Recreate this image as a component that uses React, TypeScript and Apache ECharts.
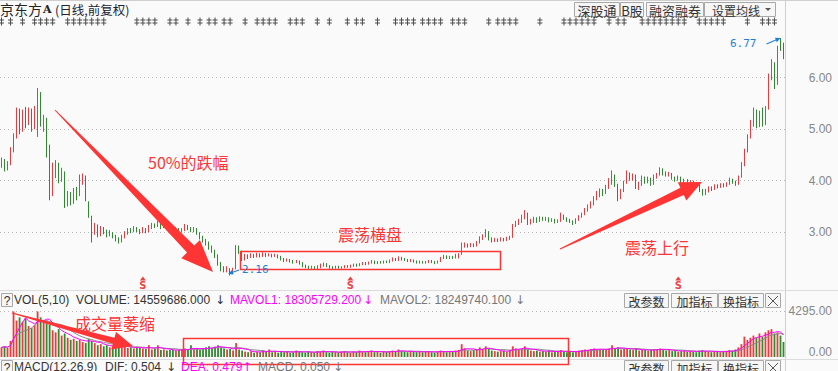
import React, { useEffect, useRef } from "react";
import * as echarts from "echarts";

// [open, close, low, high] per trading day
const kline: number[][] = [
  [4.30,4.38,4.25,4.45],[4.38,4.25,4.18,4.42],[4.25,4.32,4.20,4.38],[4.32,4.60,4.30,4.65],[4.60,4.85,4.55,4.92],[4.85,5.35,4.82,5.42],[5.35,4.98,4.90,5.40],[4.98,5.30,4.95,5.38],[5.30,5.15,5.02,5.43],[5.15,5.38,5.08,5.42],
  [5.38,5.05,4.95,5.40],[5.05,5.40,5.00,5.45],[5.40,5.70,4.85,5.80],[5.70,5.10,5.05,5.72],[5.10,5.22,4.95,5.28],[5.20,4.50,4.45,5.22],[4.50,3.72,3.62,4.70],[3.75,4.20,3.70,4.35],[4.20,4.30,4.05,4.40],[4.30,4.02,3.95,4.35],
  [4.02,4.18,3.98,4.25],[4.15,3.55,3.47,4.18],[3.55,3.70,3.50,3.80],[3.70,3.58,3.52,3.78],[3.58,3.82,3.55,3.86],[3.82,3.70,3.62,3.88],[3.72,4.00,3.70,4.12],[4.00,4.08,3.92,4.14],[4.08,3.66,3.60,4.10],[3.56,3.32,3.28,3.60],
  [3.30,3.00,2.80,3.32],[3.00,3.12,2.95,3.18],[3.10,2.95,2.90,3.15],[2.96,3.08,2.92,3.12],[3.08,3.02,2.96,3.10],[3.02,2.95,2.90,3.05],[2.95,2.99,2.92,3.04],[2.98,2.92,2.88,3.00],[2.92,2.86,2.82,2.95],[2.86,2.82,2.78,2.90],
  [2.83,2.92,2.80,2.95],[2.92,2.98,2.88,3.02],[2.98,3.05,2.95,3.08],[3.05,3.02,2.98,3.08],[3.02,3.08,3.00,3.12],[3.08,3.04,3.00,3.10],[3.04,3.00,2.96,3.06],[3.00,3.06,2.98,3.10],[3.06,3.02,2.98,3.08],[3.02,3.10,3.00,3.14],
  [3.10,3.14,3.06,3.18],[3.14,3.12,3.08,3.17],[3.12,3.18,3.10,3.22],[3.18,3.10,3.06,3.20],[3.10,3.14,3.08,3.18],[3.14,3.08,3.04,3.16],[3.08,3.02,2.98,3.10],[3.02,3.00,2.95,3.06],[3.00,3.06,2.98,3.10],[3.06,3.02,2.98,3.08],
  [3.02,3.05,2.99,3.08],[3.05,3.12,3.02,3.16],[3.12,3.08,3.04,3.14],[3.08,3.04,3.00,3.10],[3.04,3.06,3.00,3.10],[3.06,2.98,2.95,3.08],[2.98,2.90,2.86,3.00],[2.90,2.84,2.80,2.93],[2.84,2.80,2.74,2.87],[2.80,2.70,2.66,2.82],
  [2.70,2.64,2.60,2.74],[2.64,2.55,2.50,2.66],[2.55,2.40,2.35,2.57],[2.40,2.30,2.24,2.42],[2.30,2.26,2.22,2.34],[2.26,2.30,2.22,2.34],[2.28,2.22,2.16,2.30],[2.22,2.28,2.19,2.31],[2.30,2.70,2.28,2.75],[2.70,2.62,2.58,2.74],
  [2.62,2.48,2.44,2.64],[2.48,2.55,2.45,2.58],[2.55,2.52,2.48,2.57],[2.52,2.56,2.50,2.59],[2.56,2.53,2.50,2.58],[2.53,2.57,2.51,2.60],[2.57,2.54,2.51,2.59],[2.54,2.58,2.52,2.61],[2.58,2.55,2.52,2.60],[2.55,2.57,2.53,2.59],
  [2.57,2.54,2.51,2.58],[2.54,2.56,2.52,2.58],[2.56,2.52,2.49,2.57],[2.52,2.48,2.45,2.54],[2.48,2.45,2.42,2.50],[2.45,2.47,2.43,2.49],[2.47,2.44,2.41,2.48],[2.44,2.42,2.39,2.46],[2.42,2.44,2.40,2.46],[2.44,2.40,2.37,2.45],
  [2.40,2.35,2.32,2.42],[2.35,2.33,2.30,2.37],[2.33,2.31,2.28,2.35],[2.31,2.33,2.29,2.35],[2.33,2.30,2.28,2.34],[2.30,2.32,2.28,2.36],[2.32,2.36,2.30,2.39],[2.36,2.38,2.33,2.41],[2.38,2.34,2.32,2.40],[2.34,2.32,2.29,2.36],
  [2.32,2.31,2.28,2.34],[2.31,2.33,2.29,2.35],[2.33,2.31,2.29,2.35],[2.31,2.32,2.29,2.34],[2.32,2.34,2.30,2.36],[2.34,2.33,2.31,2.36],[2.33,2.35,2.31,2.37],[2.35,2.37,2.33,2.39],[2.37,2.35,2.33,2.39],[2.35,2.38,2.34,2.40],
  [2.38,2.40,2.36,2.42],[2.40,2.38,2.36,2.42],[2.38,2.41,2.37,2.43],[2.41,2.43,2.39,2.46],[2.43,2.40,2.38,2.45],[2.40,2.42,2.38,2.44],[2.42,2.41,2.39,2.44],[2.41,2.43,2.39,2.45],[2.43,2.42,2.40,2.45],[2.42,2.45,2.40,2.47],
  [2.45,2.48,2.43,2.51],[2.48,2.46,2.44,2.50],[2.46,2.50,2.44,2.53],[2.50,2.48,2.45,2.52],[2.48,2.46,2.44,2.50],[2.46,2.44,2.42,2.48],[2.44,2.46,2.42,2.48],[2.46,2.43,2.41,2.47],[2.43,2.41,2.39,2.45],[2.41,2.43,2.39,2.45],
  [2.43,2.41,2.39,2.44],[2.41,2.42,2.39,2.44],[2.42,2.44,2.40,2.46],[2.44,2.42,2.40,2.46],[2.42,2.40,2.38,2.44],[2.40,2.43,2.39,2.45],[2.43,2.50,2.42,2.52],[2.50,2.53,2.48,2.56],[2.53,2.50,2.48,2.55],[2.50,2.52,2.48,2.54],
  [2.52,2.51,2.48,2.54],[2.51,2.55,2.49,2.58],[2.51,2.56,2.49,2.59],[2.58,2.74,2.56,2.80],[2.74,2.76,2.70,2.80],[2.76,2.73,2.70,2.78],[2.73,2.76,2.71,2.79],[2.76,2.74,2.71,2.78],[2.74,2.80,2.72,2.83],[2.80,2.88,2.78,2.92],
  [2.88,2.92,2.85,2.96],[2.92,3.00,2.90,3.06],[3.00,2.88,2.84,3.02],[2.88,2.84,2.80,2.90],[2.84,2.86,2.81,2.89],[2.86,2.84,2.81,2.88],[2.84,2.87,2.82,2.90],[2.87,2.85,2.82,2.89],[2.85,2.88,2.83,2.91],[2.88,2.90,2.85,2.93],
  [2.90,3.14,2.89,3.16],[3.14,3.18,3.10,3.22],[3.18,3.22,3.14,3.26],[3.22,3.30,3.18,3.34],[3.30,3.36,3.25,3.43],[3.36,3.18,3.14,3.38],[3.18,3.22,3.15,3.26],[3.22,3.26,3.18,3.30],[3.26,3.22,3.18,3.29],[3.22,3.28,3.20,3.31],
  [3.28,3.25,3.22,3.30],[3.25,3.27,3.22,3.30],[3.27,3.22,3.19,3.29],[3.22,3.24,3.20,3.27],[3.24,3.20,3.17,3.26],[3.20,3.22,3.18,3.25],[3.22,3.30,3.20,3.38],[3.30,3.27,3.24,3.34],[3.27,3.24,3.20,3.29],[3.24,3.21,3.18,3.26],
  [3.21,3.18,3.14,3.23],[3.18,3.24,3.16,3.27],[3.24,3.30,3.22,3.33],[3.30,3.35,3.28,3.38],[3.35,3.44,3.33,3.47],[3.44,3.50,3.40,3.54],[3.50,3.56,3.46,3.60],[3.56,3.66,3.52,3.70],[3.66,3.72,3.62,3.80],[3.72,3.80,3.68,3.85],
  [3.80,3.76,3.70,3.84],[3.76,3.88,3.74,3.92],[3.88,3.96,3.84,4.05],[3.96,4.08,3.92,4.20],[4.08,3.92,3.88,4.12],[3.92,3.64,3.60,3.94],[3.66,3.80,3.64,3.84],[3.80,3.96,3.78,4.00],[3.96,4.12,3.94,4.20],[4.12,4.05,4.00,4.16],
  [4.05,4.10,4.00,4.14],[4.10,3.88,3.84,4.12],[3.88,3.92,3.82,3.98],[3.92,4.06,3.90,4.10],[4.06,3.98,3.94,4.08],[3.98,4.04,3.95,4.08],[4.04,3.94,3.90,4.06],[3.94,4.08,3.92,4.12],[4.08,4.12,4.04,4.15],[4.12,4.22,4.10,4.26],
  [4.22,4.15,4.10,4.24],[4.15,4.12,4.08,4.18],[4.12,4.14,4.08,4.17],[4.14,4.06,4.02,4.15],[4.06,4.04,3.98,4.08],[4.04,4.06,4.00,4.10],[4.06,3.98,3.95,4.08],[3.98,4.00,3.94,4.04],[4.00,3.96,3.93,4.03],[3.96,3.98,3.92,4.01],
  [3.98,3.94,3.90,4.00],[3.94,3.92,3.88,3.97],[3.92,3.82,3.78,3.94],[3.82,3.74,3.71,3.84],[3.74,3.80,3.72,3.84],[3.80,3.86,3.77,3.89],[3.86,3.84,3.80,3.89],[3.84,3.90,3.82,3.93],[3.90,3.88,3.85,3.93],[3.88,3.92,3.86,3.95],
  [3.92,3.90,3.87,3.95],[3.90,3.94,3.88,3.97],[3.94,4.02,3.92,4.06],[4.02,3.98,3.94,4.04],[3.98,3.94,3.90,4.00],[3.94,4.08,3.92,4.10],[4.08,4.32,4.06,4.36],[4.32,4.58,4.28,4.62],[4.58,4.85,4.55,4.90],[4.85,5.12,4.82,5.18],
  [5.12,5.35,5.05,5.42],[5.35,5.08,5.02,5.38],[5.08,5.30,5.04,5.36],[5.30,5.12,5.05,5.42],[5.12,5.40,5.08,5.45],[5.42,6.02,5.38,6.08],[6.02,6.28,5.95,6.36],[6.25,5.84,5.78,6.30],[5.88,6.58,5.86,6.62],[6.74,6.58,6.52,6.77],
  [6.62,6.45,6.36,6.68],
];

const volumes: number[] = [
  900, 1000, 850, 1500, 4250, 3400, 3700, 3300, 3600, 2900,
  2700, 3000, 4250, 3700, 3300, 3400, 3000, 2500, 2300, 2600,
  2000, 2200, 1800, 1600, 1700, 1500, 1600, 1400, 1300, 1700,
  1500, 1300, 1100, 1200, 1000, 1100, 900, 1000, 950, 1100,
  900, 1000, 850, 900, 800, 950, 850, 800, 750, 1100,
  700, 800, 1100, 650, 700, 600, 650, 700, 600, 650,
  700, 800, 650, 1100, 700, 750, 650, 800, 900, 1000,
  850, 950, 1100, 900, 800, 700, 750, 600, 1300, 700,
  600, 500, 450, 550, 400, 500, 450, 600, 500, 700,
  450, 500, 400, 550, 450, 500, 400, 450, 600, 500,
  450, 400, 500, 450, 400, 550, 500, 600, 450, 400,
  500, 450, 400, 500, 550, 450, 400, 500, 450, 600,
  500, 450, 550, 600, 450, 500, 400, 500, 450, 550,
  600, 500, 700, 550, 500, 450, 550, 500, 450, 500,
  450, 500, 550, 450, 400, 500, 600, 550, 450, 500,
  500, 600, 650, 1200, 800, 600, 550, 650, 750, 900,
  700, 1000, 750, 600, 550, 500, 550, 600, 500, 650,
  1000, 800, 700, 750, 1000, 700, 600, 550, 600, 500,
  550, 500, 600, 450, 500, 550, 650, 500, 450, 500,
  450, 550, 600, 650, 700, 650, 750, 800, 700, 750,
  650, 700, 800, 1100, 750, 900, 700, 750, 850, 700,
  650, 750, 600, 700, 650, 600, 650, 700, 750, 800,
  700, 600, 650, 550, 600, 500, 550, 600, 500, 550,
  500, 450, 600, 650, 550, 500, 450, 500, 550, 450,
  500, 550, 650, 600, 700, 900, 1200, 1900, 1600, 1800,
  2000, 1800, 2200, 1900, 2300, 2500, 2600, 2200, 2300, 2000, 1400,
];

// days carrying an information marker (top strip) and the "S" signal
const markerDays = [0, 3, 7, 11, 13, 15, 17, 22, 24, 26, 28, 30, 32, 34, 45, 47, 49, 51, 56, 58, 62, 66, 69, 71, 74, 76, 81, 85, 87, 89, 91, 96, 98, 100, 105, 109, 115, 118, 120, 125, 131, 133, 135, 137, 140, 142, 144, 146, 150, 152, 154, 162, 165, 167, 169, 171, 179, 187, 189, 191, 193, 195, 197, 202, 205, 207, 213, 215, 217, 219, 221, 223, 225, 227, 232, 234, 236, 238, 240, 248, 253, 255, 257];
const signalDays = [47, 116, 225];

const priceTicks = [3, 4, 5, 6];
const volumeTicks = [0, 4295];

const titleParts = ["京东方", "A", "(日线,前复权)"];
const topButtons = ["深股通", "B股", "融资融券", "设置均线"];
const panelButtons = ["改参数", "加指标", "换指标"];
const volHeader = ["VOL(5,10)", "VOLUME: 14559686.000", "MAVOL1: 18305729.200", "MAVOL2: 18249740.100"];
const macdHeader = ["MACD(12,26,9)", "DIF: 0.504", "DEA: 0.479", "MACD: 0.050"];
const notes = ["50%的跌幅", "震荡横盘", "震荡上行", "成交量萎缩"];

const UP = "#ee3a3a";
const DOWN = "#2e8b2e";
const RED = "#ff3535";
const BLUE = "#1f7fd6";
const CJK = '"Noto Sans CJK SC", "Liberation Sans", sans-serif';
const LAT = '"Liberation Sans", "Noto Sans CJK SC", sans-serif';

function movingAverage(values: number[], n: number) {
  return values.map((_, i) => {
    const s = Math.max(0, i - n + 1);
    let sum = 0;
    for (let k = s; k <= i; k++) sum += values[k];
    return +(sum / (i - s + 1)).toFixed(1);
  });
}

function arrowPoints(x1: number, y1: number, x2: number, y2: number, tw: number, sw: number, hw: number, hl: number) {
  const dx = x2 - x1, dy = y2 - y1, L = Math.hypot(dx, dy);
  const ux = dx / L, uy = dy / L, nx = -uy, ny = ux;
  const bx = x2 - ux * hl, by = y2 - uy * hl;
  return [
    [x1 + nx * tw / 2, y1 + ny * tw / 2],
    [bx + nx * sw / 2, by + ny * sw / 2],
    [bx + nx * hw / 2, by + ny * hw / 2],
    [x2, y2],
    [bx - nx * hw / 2, by - ny * hw / 2],
    [bx - nx * sw / 2, by - ny * sw / 2],
    [x1 - nx * tw / 2, y1 - ny * tw / 2],
  ];
}

function txt(x: number, y: number, text: string, color: string, size: number, family: string, align = "left", weight = "normal") {
  return {
    type: "text", x, y, silent: true, z: 100,
    style: { text, fill: color, fontSize: size, fontFamily: family, fontWeight: weight, textAlign: align, textVerticalAlign: "middle", align, verticalAlign: "middle" },
  };
}
function rect(x: number, y: number, w: number, h: number, fill: string, stroke: string, lw = 1) {
  return { type: "rect", silent: true, z: 90, shape: { x, y, width: w, height: h }, style: { fill, stroke, lineWidth: lw } };
}
function line(x1: number, y1: number, x2: number, y2: number, stroke: string, lw = 1) {
  return { type: "line", silent: true, z: 90, shape: { x1, y1, x2, y2 }, style: { stroke, lineWidth: lw } };
}
function button(x: number, y: number, w: number, h: number, label: string, size = 12) {
  return [rect(x + 0.5, y + 0.5, w, h, "#f6f6f6", "#a8a8a8"), txt(x + w / 2 + 0.5, y + h / 2 + 1, label, "#333", size, CJK, "center")];
}

function buildOption() {
  const days = kline.map((_, i) => String(i));
  const ma5 = movingAverage(volumes, 5);
  const ma10 = movingAverage(volumes, 10);
  const volData = volumes.map((v, i) => ({ value: v, itemStyle: { color: kline[i][1] >= kline[i][0] ? UP : DOWN } }));
  const grid = { left: 0, right: 53 };
  const xCat = (gridIndex: number) => ({ type: "category", gridIndex, data: days, boundaryGap: true, show: false });
  return {
    animation: false,
    backgroundColor: "#fafafa",
    grid: [
      { ...grid, top: 26.2, height: 257.5 },
      { ...grid, top: 311, height: 46 },
      { ...grid, top: 17, height: 9 },
    ],
    xAxis: [xCat(0), xCat(1), xCat(2)],
    yAxis: [
      {
        type: "value", gridIndex: 0, position: "right", min: 2, max: 7, interval: 1,
        axisLine: { show: false }, axisTick: { show: false },
        axisLabel: {
          color: "#888", fontSize: 12, fontFamily: LAT, margin: 47, align: "right",
          formatter: (v: number) => (priceTicks.includes(v) ? v.toFixed(2) : ""),
        },
        splitLine: { show: true, showMinLine: false, showMaxLine: false, lineStyle: { color: "#b8b8b8", type: [1, 3] } },
      },
      {
        type: "value", gridIndex: 1, position: "right", min: volumeTicks[0], max: volumeTicks[1], interval: volumeTicks[1],
        axisLine: { show: false }, axisTick: { show: false },
        axisLabel: {
          margin: 47, align: "right",
          formatter: (v: number) => (v === 0 ? "{b|" + v.toFixed(2) + "}" : "{a|" + v.toFixed(2) + "}"),
          rich: {
            a: { color: "#888", fontSize: 12, fontFamily: LAT },
            b: { color: "#888", fontSize: 12, fontFamily: LAT, padding: [0, 0, 10, 0] },
          },
        },
        splitLine: { show: true, showMinLine: false, lineStyle: { color: "#b8b8b8", type: [1, 3] } },
      },
      { type: "value", gridIndex: 2, min: 0, max: 1, show: false },
    ],
    series: [
      {
        type: "candlestick", xAxisIndex: 0, yAxisIndex: 0, data: kline, barWidth: 1,
        itemStyle: { color: UP, color0: DOWN, borderColor: UP, borderColor0: DOWN, borderWidth: 1 },
      },
      {
        type: "scatter", xAxisIndex: 0, yAxisIndex: 0, data: signalDays.map((d) => [d, 2.1]),
        symbol: "triangle", symbolSize: [6, 4], itemStyle: { color: "#e81010" },
        label: { show: true, position: "bottom", distance: 0, formatter: "S", color: "#e81010", fontSize: 10, fontWeight: "bold", fontFamily: '"DejaVu Sans", sans-serif' },
      },
      {
        type: "scatter", xAxisIndex: 2, yAxisIndex: 2, data: markerDays.map((d) => [d, 0.5]),
        symbol: "path://M2,0h1v2h2v1h-2v2h2v1h-2v2h-1v-2h-2v-1h2v-2h-2v-1h2z", symbolSize: [5, 8],
        itemStyle: { color: "#222" },
      },
      { type: "bar", xAxisIndex: 1, yAxisIndex: 1, data: volData, barWidth: 1.8 },
      { type: "line", xAxisIndex: 1, yAxisIndex: 1, data: ma10, symbol: "none", lineStyle: { color: "#8a8a8a", width: 1 } },
      { type: "line", xAxisIndex: 1, yAxisIndex: 1, data: ma5, symbol: "none", lineStyle: { color: "#ff00ff", width: 1 } },
    ],
  };
}

function buildGraphics(chart: any) {
  const els: any[] = [];
  // frame lines
  els.push(line(0, 0.5, 838, 0.5, "#cfcfcf"));
  els.push(line(785.5, 0, 785.5, 371, "#cfcfcf"));
  els.push(line(0, 290.5, 838, 290.5, "#dcdcdc"));
  els.push(line(0, 359.5, 838, 359.5, "#dcdcdc"));

  // title
  els.push(txt(0, 9, titleParts[0], "#222", 14, CJK));
  els.push(txt(43, 9, titleParts[1], "#222", 11, '"DejaVu Serif", serif', "left", "bold"));
  els.push(txt(55, 9, titleParts[2], "#223", 12.5, CJK));

  // top buttons
  els.push(...button(574, 2, 45, 14, topButtons[0], 13));
  els.push(...button(620, 2, 23, 14, topButtons[1], 13));
  els.push(...button(646, 2, 57, 14, topButtons[2], 13));
  els.push(rect(704.5, 2.5, 71, 14, "#f6f6f6", "#a8a8a8"));
  els.push(txt(712, 10, topButtons[3], "#333", 12, CJK));
  els.push({ type: "polygon", silent: true, z: 100, shape: { points: [[765, 8], [771, 8], [768, 11]] }, style: { fill: "#555" } });

  // panel headers
  const panelRow = (y: number, labels: string[], colors: string[], xs: number[], arrows: string[], axs: number[], acolors: string[]) => {
    els.push(rect(1.5, y - 6.5, 11, 13, "#f6f6f6", "#a8a8a8"));
    els.push(txt(7, y + 0.5, "?", "#333", 12, LAT, "center"));
    labels.forEach((l, i) => els.push(txt(xs[i], y, l, colors[i], 12, LAT)));
    arrows.forEach((a, i) => els.push(txt(axs[i], y, a, acolors[i], 12, '"DejaVu Sans", sans-serif')));
    const bx = [624, 671, 718];
    const bw = [44, 46, 45];
    panelButtons.forEach((b, i) => els.push(...button(bx[i], y - 7, bw[i], 14, b, 12)));
    els.push(rect(765.5, y - 6.5, 15, 14, "#f6f6f6", "#a8a8a8"));
    els.push(line(768, y - 4, 778, y + 6, "#555"));
    els.push(line(778, y - 4, 768, y + 6, "#555"));
  };
  panelRow(300, volHeader, ["#333", "#333", "#ff00ff", "#777"], [14, 76, 230, 380], ["↓", "↓", "↓"], [215, 363, 515], ["#333", "#ff00ff", "#777"]);
  panelRow(367, macdHeader, ["#333", "#333", "#ff00ff", "#777"], [14, 105, 181, 258], ["↓", "↑", "↓"], [166, 242, 333], ["#333", "#ff00ff", "#777"]);

  // red annotations
  els.push({ type: "polygon", silent: true, z: 95, shape: { points: arrowPoints(55, 110, 213, 272, 1, 10, 26, 32) }, style: { fill: RED } });
  els.push({ type: "polygon", silent: true, z: 95, shape: { points: arrowPoints(560, 249, 702, 182, 1, 8, 20, 22) }, style: { fill: RED } });
  els.push({ type: "polygon", silent: true, z: 95, shape: { points: arrowPoints(12, 313, 133, 346, 1, 6, 18, 20) }, style: { fill: RED } });
  els.push(rect(240.5, 251.5, 260, 18, "none", RED, 1.5));
  els.push(rect(183.5, 338.5, 385, 26, "none", RED, 1.5));
  els.push(txt(148, 162, notes[0], RED, 16, CJK));
  els.push(txt(338, 234, notes[1], RED, 16, CJK));
  els.push(txt(625, 247, notes[2], RED, 16, CJK));
  els.push(txt(75, 323, notes[3], RED, 16, CJK));

  // min / max price labels
  let lo = 0, hi = 0;
  kline.forEach((k, i) => {
    if (k[2] < kline[lo][2]) lo = i;
    if (k[3] > kline[hi][3]) hi = i;
  });
  const pl = chart.convertToPixel({ xAxisIndex: 0, yAxisIndex: 0 }, [lo, kline[lo][2]]);
  const ph = chart.convertToPixel({ xAxisIndex: 0, yAxisIndex: 0 }, [hi, kline[hi][3]]);
  els.push({ type: "polygon", silent: true, z: 96, shape: { points: arrowPoints(pl[0] + 9, pl[1] - 5.5, pl[0] - 2, pl[1] - 1.5, 1, 1, 5, 5) }, style: { fill: BLUE } });
  els.push(txt(pl[0] + 12, pl[1] - 5.5, kline[lo][2].toFixed(2), BLUE, 11, '"DejaVu Sans Mono", monospace'));
  els.push({ type: "polygon", silent: true, z: 96, shape: { points: arrowPoints(ph[0] - 14, ph[1] + 6, ph[0], ph[1], 1, 1, 5, 5) }, style: { fill: BLUE } });
  els.push(txt(ph[0] - 24, ph[1] + 5, kline[hi][3].toFixed(2), BLUE, 11, '"DejaVu Sans Mono", monospace', "right"));
  return els;
}

export default function App() {
  const ref = useRef<HTMLDivElement>(null);
  useEffect(() => {
    document.body.style.margin = "0";
    const chart = echarts.init(ref.current!, null, { renderer: "svg" });
    chart.setOption(buildOption() as any);
    chart.setOption({ graphic: buildGraphics(chart) } as any);
    return () => chart.dispose();
  }, []);
  return <div ref={ref} style={{ position: "absolute", left: 0, top: 0, width: 838, height: 371 }} />;
}
